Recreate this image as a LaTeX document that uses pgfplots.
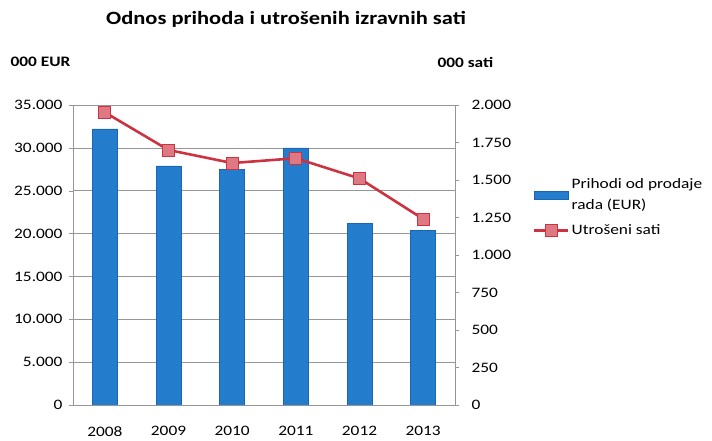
\documentclass[border=0pt]{standalone}
\usepackage{pgfplots}
\pgfplotsset{compat=1.18}
\usepackage{fontspec}
\setmainfont{Carlito}[FakeStretch=1.2]
\definecolor{barblue}{RGB}{36,124,205}
\definecolor{bardark}{RGB}{28,100,180}
\definecolor{linered}{RGB}{205,50,65}
\definecolor{markpink}{RGB}{222,120,130}
\definecolor{gridgray}{RGB}{150,150,150}
\begin{document}
\begin{tikzpicture}[x=1bp,y=1bp]
\path[use as bounding box] (-73,-36) rectangle (639,405);
\pgfplotsset{
  common/.style={
    width=382bp, height=300bp, scale only axis,
    at={(0,0)}, anchor=south west,
    xmin=-0.5, xmax=5.5,
    ymin=0,
    axis line style={gridgray},
    tick style={gridgray},
    tick align=outside,
    major tick length=4bp,
    ticklabel style={font=\fontsize{14.5}{17}\selectfont},
    /pgf/number format/.cd, 1000 sep={.}, assume math mode=true,
  }
}
\begin{axis}[common,
  ymax=35000, ytick={0,5000,...,35000},
  axis y line*=left, axis x line*=bottom,
  ymajorgrids, grid style={gridgray, line width=0.6pt},
  xtick={0,...,5}, xticklabels={2008,2009,2010,2011,2012,2013},
  xtick style={draw=none},
  minor xtick={-0.5,0.5,...,5.5},
  minor tick length=5bp,
  xticklabel style={yshift=-14bp},
  yticklabel style={xshift=-3bp},
  scaled y ticks=false,
]
\addplot[ybar, bar width=25bp, fill=barblue, draw=bardark, line width=0.5pt]
  coordinates {(0,32200) (1,27900) (2,27500) (3,30000) (4,21200) (5,20400)};
\end{axis}
\begin{axis}[common,
  ymax=2000, ytick={0,250,...,2000},
  axis y line*=right, axis x line=none,
  yticklabel style={xshift=9bp, anchor=west},
  scaled y ticks=false,
  legend style={draw=none, fill=none, at={(rel axis cs:1.196,0.769)}, anchor=north west,
    font=\fontsize{14.5}{21}\selectfont, cells={align=left, anchor=west},
    row sep=10bp, legend columns=1},
  legend cell align=left,
]
\addlegendimage{legend image code/.code={
  \draw[fill=barblue, draw=bardark] (0bp,-4bp) rectangle (34bp,4bp);}}
\addlegendentry{Prihodi od prodaje\\rada (EUR)}
\addplot[linered, line width=2.6pt, mark=square*, mark size=6bp,
  mark options={fill=markpink, draw=linered, line width=0.8pt},
  legend image code/.code={
    \draw[linered, line width=2.6pt] (0bp,0bp) -- (34bp,0bp);
    \draw[fill=markpink, draw=linered, line width=0.8pt] (11bp,-6bp) rectangle (23bp,6bp);}]
  coordinates {(0,1951) (1,1700) (2,1613) (3,1645) (4,1510) (5,1240)};
\addlegendentry{Utrošeni sati}
\end{axis}
\node[font=\fontsize{18.8}{22}\selectfont\bfseries] at (213,386) {Odnos prihoda i utrošenih izravnih sati};
\node[font=\fontsize{14.5}{17}\selectfont\bfseries, anchor=west] at (-66,343) {000 EUR};
\node[font=\fontsize{14.5}{17}\selectfont\bfseries, anchor=west] at (361,343) {000 sati};
\end{tikzpicture}
\end{document}
